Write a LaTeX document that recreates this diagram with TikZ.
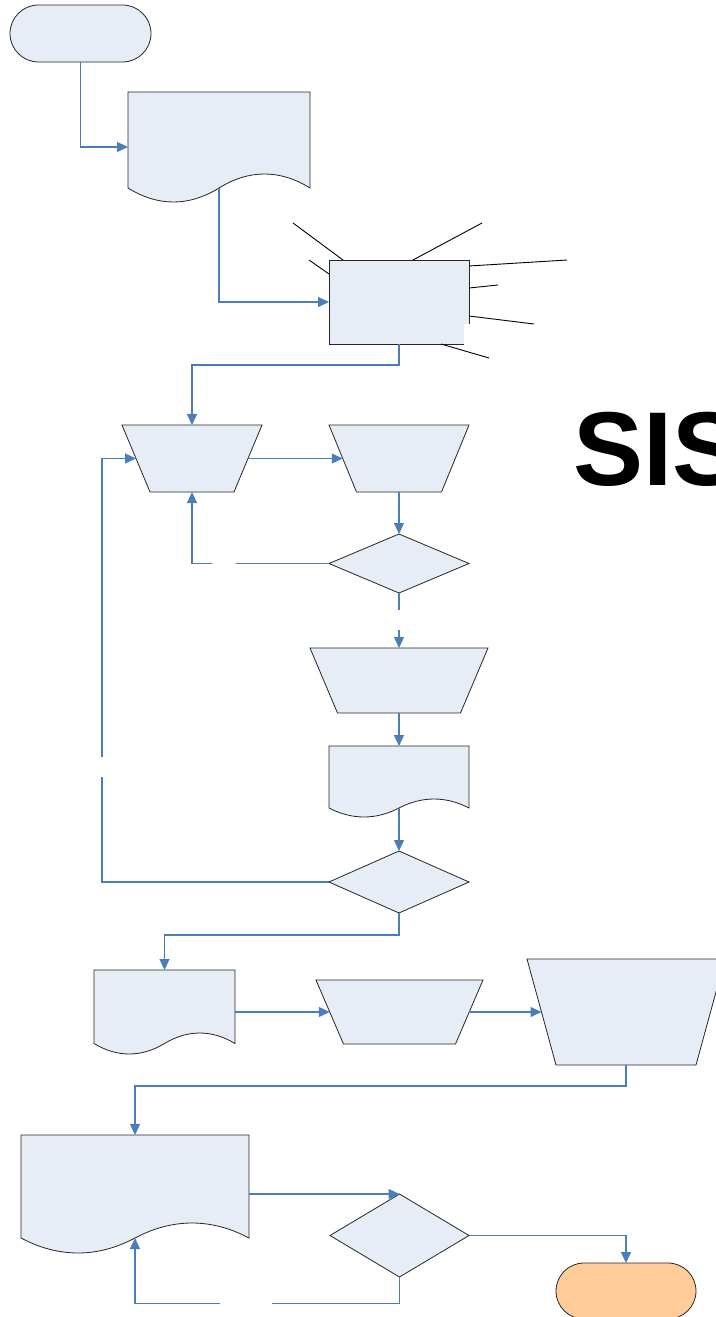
\documentclass[tikz,border=0pt]{standalone}
\usepackage{fontspec}
\newfontfamily\sisfont{Liberation Sans}
\usetikzlibrary{shapes.geometric,arrows.meta,calc}
\definecolor{shapefill}{HTML}{E6EDF7}
\definecolor{connblue}{HTML}{4A7EBB}
\definecolor{endfill}{HTML}{FFCC99}
\definecolor{edgegray}{HTML}{262626}
\tikzset{
  base/.style={draw=edgegray, line width=0.8pt, fill=shapefill, inner sep=0pt, outer sep=0pt},
  term/.style={base, rectangle, rounded corners=28pt, minimum width=141pt, minimum height=56pt},
  procbox/.style={base, rectangle, minimum width=140pt, minimum height=84pt},
  decision/.style={base, diamond, minimum width=140pt},
  holder/.style={rectangle, draw=none, fill=none, inner sep=0pt, outer sep=0pt},
  outline/.style={draw=edgegray, line width=0.8pt, fill=shapefill},
  conn/.style={draw=connblue, line width=1.2pt, -{Triangle[length=11pt,width=10pt]}},
  callout/.style={draw=black, line width=0.9pt},
  gapbox/.style={fill=white, draw=none, inner sep=0pt, outer sep=0pt},
}
% document shape drawn on a holder node: #1 name, #2 wave depth
\newcommand{\docdraw}[2]{%
  \path[outline] (#1.north west) -- (#1.north east) -- ($(#1.south east)+(0,-#2)$)
    .. controls ($(#1.south east)!0.165!(#1.south west)+(0,-2.333*#2)$)
       and ($(#1.south east)!0.335!(#1.south west)+(0,-2.333*#2)$) .. ($(#1.south)+(0,-#2)$)
    .. controls ($(#1.south east)!0.665!(#1.south west)+(0,0.333*#2)$)
       and ($(#1.south east)!0.835!(#1.south west)+(0,0.333*#2)$) .. ($(#1.south west)+(0,-#2)$)
    -- cycle;
  \coordinate (#1-w) at ($(#1.south)+(0,-#2)$);
}
% manual-operation trapezoid on a holder node: #1 name, #2 inset of the bottom corners
\newcommand{\trapdraw}[2]{%
  \path[outline] (#1.north west) -- (#1.north east) -- ($(#1.south east)+(-#2,0)$)
    -- ($(#1.south west)+(#2,0)$) -- cycle;
  \coordinate (#1-l) at ($(#1.west)+(#2/2,0)$);
  \coordinate (#1-r) at ($(#1.east)+(-#2/2,0)$);
}
\begin{document}
\begin{tikzpicture}[x=1pt,y=-1pt]
\useasboundingbox (0,0) rectangle (715,1317);

% shapes
\node[term, minimum width=141pt, minimum height=57pt, rounded corners=28.5pt] (start) at (80.5,33.5) {};
\node[holder, minimum width=182pt, minimum height=110pt] (doc1) at (219,147) {};
\docdraw{doc1}{14}
\node[procbox] (box) at (399,302) {};
\draw[callout] (293,223) -- (343,260);
\draw[callout] (309,260) -- (329,274);
\draw[callout] (482,223) -- (413,260);
\draw[callout] (469,266) -- (567,260);
\draw[callout] (469,288) -- (498,285);
\draw[callout] (469,316) -- (534,324);
\draw[callout] (441,344) -- (489,358);
\node[gapbox, minimum width=26pt, minimum height=21.5pt, anchor=north west] (patch) at (464,324) {};

\node[holder, minimum width=140pt, minimum height=67pt] (t1) at (192,458.5) {};
\trapdraw{t1}{28}
\node[holder, minimum width=140pt, minimum height=67pt] (t2) at (399,458.5) {};
\trapdraw{t2}{27.5}
\node[decision, minimum height=59pt] (d1) at (399,563.5) {};
\node[holder, minimum width=178pt, minimum height=65pt] (t3) at (399,680.5) {};
\trapdraw{t3}{27.5}
\node[holder, minimum width=140pt, minimum height=71pt] (doc2) at (399,781.5) {};
\docdraw{doc2}{9}
\node[decision, minimum height=62pt] (d2) at (399,882) {};
\node[holder, minimum width=141pt, minimum height=84pt] (doc3) at (164.5,1012) {};
\docdraw{doc3}{10.5}
\node[holder, minimum width=167pt, minimum height=64pt] (t5) at (399.5,1012) {};
\trapdraw{t5}{27.5}
\node[holder, minimum width=198pt, minimum height=106pt] (t6) at (626,1012) {};
\trapdraw{t6}{29}
\node[holder, minimum width=228pt, minimum height=118pt] (doc4) at (135,1194) {};
\docdraw{doc4}{15}
\node[decision, minimum width=139pt, minimum height=83pt] (d3) at (399.5,1235.5) {};
\node[term, fill=endfill, minimum width=140pt, minimum height=56pt] (endt) at (626,1291) {};

\node[anchor=base west, inner sep=0pt, font=\sisfont\bfseries\fontsize{105}{105}\selectfont] (title) at (573,485) {SIS};

% connectors
\draw[conn] (start.south) |- (doc1.west);
\draw[conn] (doc1-w) |- (box.west);
\draw[conn] (box.south) -- ++(0,21) -| (t1.north);
\draw[conn] (t1-r) -- (t2-l);
\draw[conn] (t2.south) -- (d1.north);
\draw[conn] (d1.west) -| (t1.south);
\draw[conn] (d1.south) -- (t3.north);
\draw[conn] (t3.south) -- (doc2.north);
\draw[conn] (doc2-w) -- (d2.north);
\draw[conn] (d2.west) -- ++(-227,0) |- (t1-l);
\draw[conn] (d2.south) -- ++(0,22) -| (doc3.north);
\draw[conn] (doc3.east) -- (t5-l);
\draw[conn] (t5-r) -- (t6-l);
\draw[conn] (t6.south) -- ++(0,21) -| (doc4.north);
\draw[conn] (doc4.east) -- (d3.north);
\draw[conn] (d3.east) -| (endt.north);
\draw[conn] (d3.south) -- ++(0,26.5) -| (doc4-w);

% label gaps
\node[gapbox, minimum width=24pt, minimum height=4pt] (gapA) at (224,563.5) {};
\node[gapbox, minimum width=4pt, minimum height=20pt] (gapB) at (399,620) {};
\node[gapbox, minimum width=4pt, minimum height=20pt] (gapC) at (102,767) {};
\node[gapbox, minimum width=52pt, minimum height=4pt] (gapD) at (246,1304) {};
\end{tikzpicture}
\end{document}
